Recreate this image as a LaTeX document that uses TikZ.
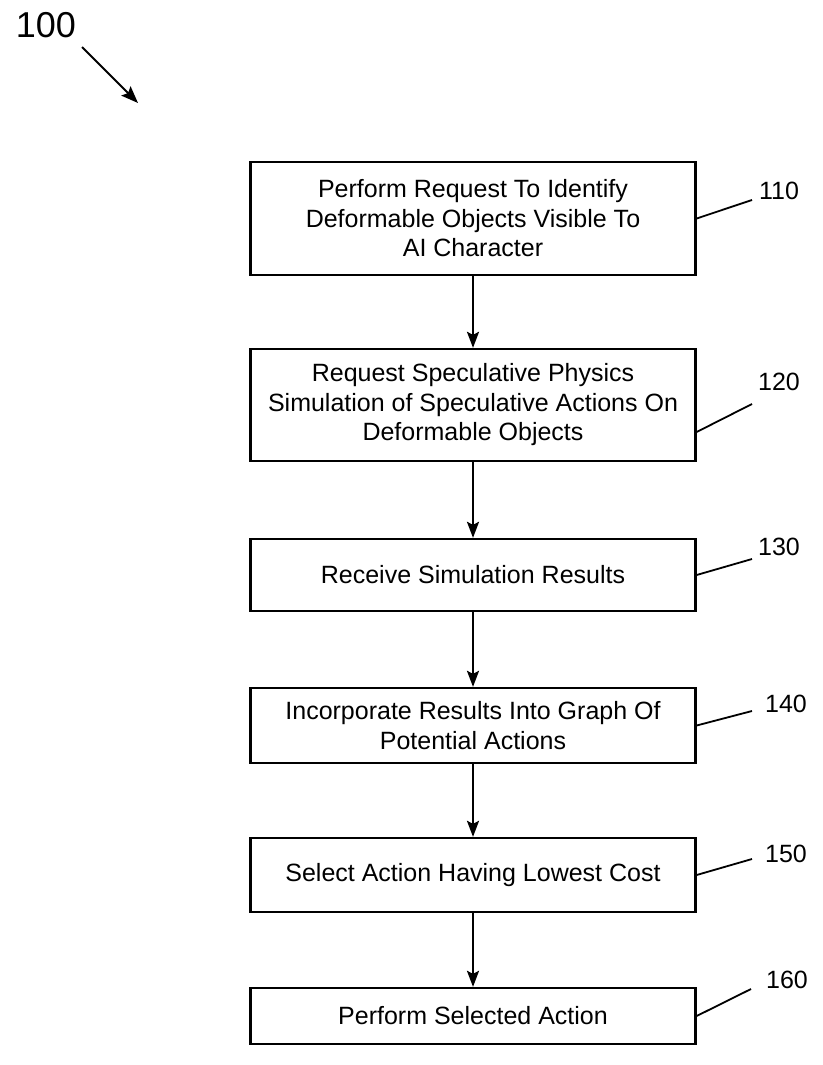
\documentclass[tikz,border=0pt]{standalone}
\usepackage{fontspec}
\setmainfont{Liberation Sans}
\usetikzlibrary{arrows.meta}
\begin{document}
\begin{tikzpicture}[x=1pt,y=-1pt,
  stepbox/.style={draw,line width=2.3pt,minimum width=445pt,align=center,inner sep=0pt,
    font=\fontsize{25}{29.5}\selectfont},
  flow/.style={line width=2.3pt,-{Stealth[length=16pt,width=12pt,inset=3pt]}},
  lead/.style={line width=1.8pt},
  reflabel/.style={font=\fontsize{25}{28}\selectfont,inner sep=0pt}]
\useasboundingbox (0,0) rectangle (822,1065);
\node[stepbox,minimum height=113pt] (b110) at (473,218.5) {Perform Request To Identify\\Deformable Objects Visible To\\AI Character};
\node[stepbox,minimum height=112pt] (b120) at (473,405) {Request Speculative Physics\\Simulation of Speculative Actions On\\Deformable Objects};
\node[stepbox,minimum height=72pt] (b130) at (473,575) {Receive Simulation Results};
\node[stepbox,minimum height=75pt] (b140) at (473,725.5) {Incorporate Results Into Graph Of\\Potential Actions};
\node[stepbox,minimum height=74pt] (b150) at (473,875) {Select Action Having Lowest Cost};
\node[stepbox,minimum height=56pt] (b160) at (473,1016) {Perform Selected Action};

\draw[flow] (b110) -- (b120);
\draw[flow] (b120) -- (b130);
\draw[flow] (b130) -- (b140);
\draw[flow] (b140) -- (b150);
\draw[flow] (b150) -- (b160);

\node[reflabel] (t110) at (779,191) {110};
\node[reflabel] (t120) at (779,382) {120};
\node[reflabel] (t130) at (779,547) {130};
\node[reflabel] (t140) at (786,704) {140};
\node[reflabel] (t150) at (786,854) {150};
\node[reflabel] (t160) at (787,980) {160};

\coordinate (e110) at (752,200);
\coordinate (e120) at (752,404);
\coordinate (e130) at (752,559);
\coordinate (e140) at (752,711);
\coordinate (e150) at (752,859);
\coordinate (e160) at (751,989);
\draw[lead] (b110.east) -- (e110);
\draw[lead] ([yshift=-27pt]b120.east) -- (e120);
\draw[lead] (b130.east) -- (e130);
\draw[lead] (b140.east) -- (e140);
\draw[lead] (b150.east) -- (e150);
\draw[lead] (b160.east) -- (e160);

\node[font=\fontsize{36}{40}\selectfont,inner sep=0pt] (t100) at (46,25) {100};
\coordinate (a0) at (82,47);
\coordinate (a1) at (138,103);
\draw[line width=2pt,-{Stealth[length=17pt,width=13pt,inset=3pt]}] (a0) -- (a1);
\end{tikzpicture}
\end{document}
